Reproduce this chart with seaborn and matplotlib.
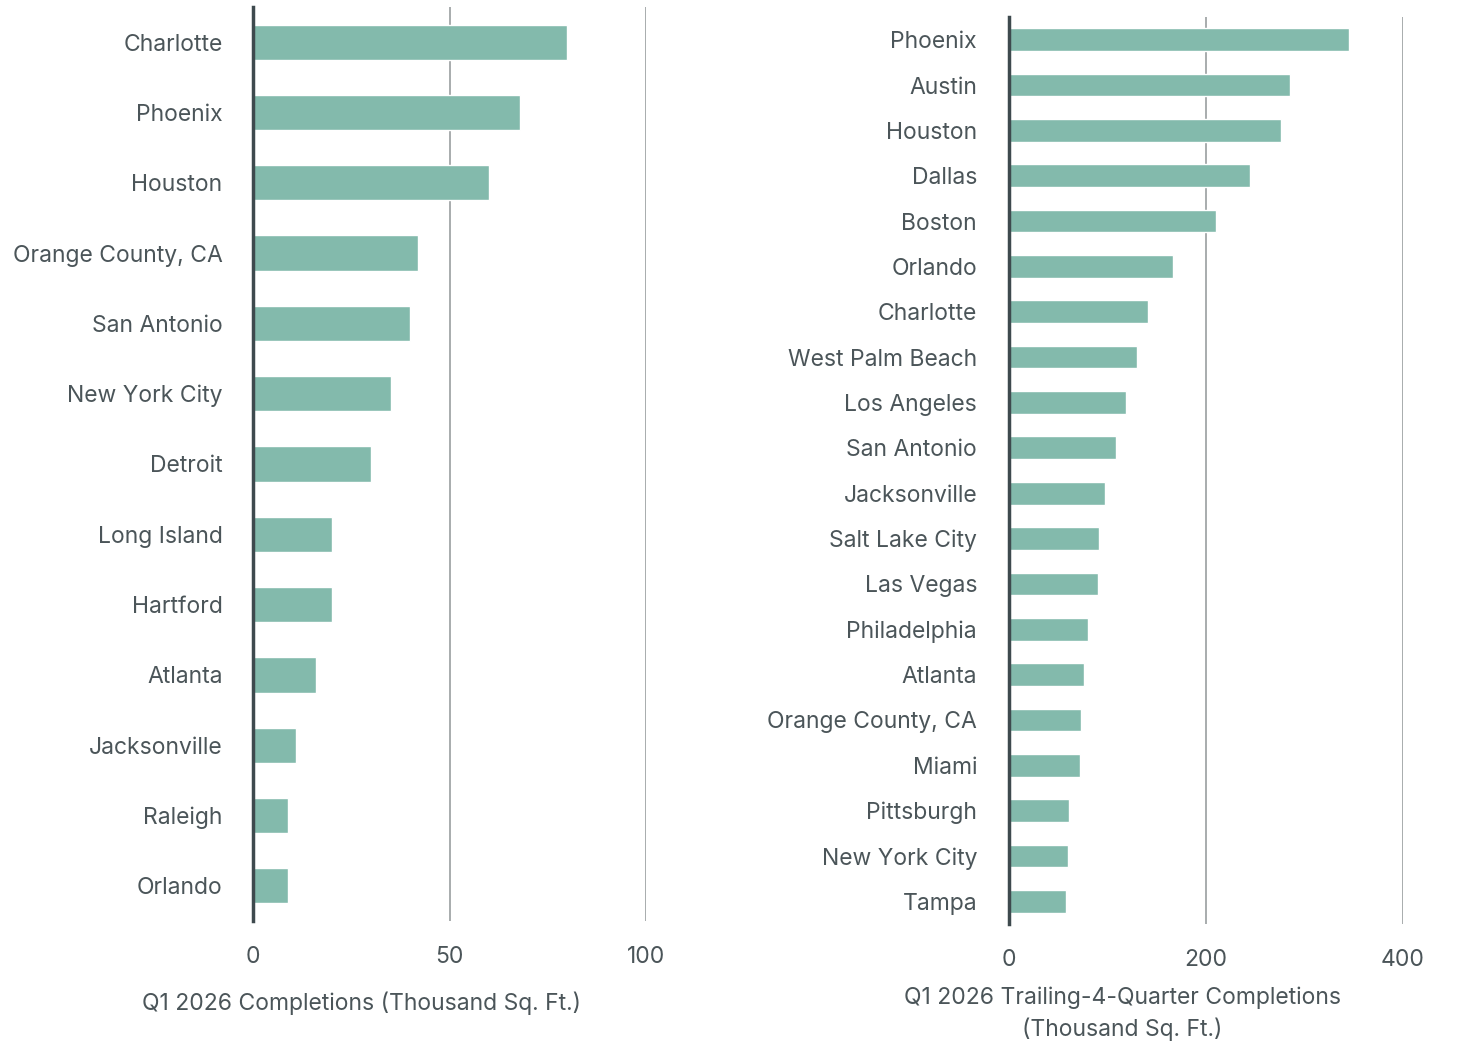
import matplotlib.pyplot as plt
import pandas as pd
import seaborn as sns

# left panel: Q1 2026 completions
q1_markets = [
    "Charlotte", "Phoenix", "Houston", "Orange County, CA", "San Antonio",
    "New York City", "Detroit", "Long Island", "Hartford", "Atlanta",
    "Jacksonville", "Raleigh", "Orlando",
]
q1_values = [80, 68, 60, 42, 40, 35, 30, 20, 20, 16, 11, 9, 9]

# right panel: trailing-4-quarter completions
t4q_markets = [
    "Phoenix", "Austin", "Houston", "Dallas", "Boston", "Orlando", "Charlotte",
    "West Palm Beach", "Los Angeles", "San Antonio", "Jacksonville",
    "Salt Lake City", "Las Vegas", "Philadelphia", "Atlanta",
    "Orange County, CA", "Miami", "Pittsburgh", "New York City", "Tampa",
]
t4q_values = [345, 285, 276, 245, 210, 167, 141, 130, 119, 109, 97, 91, 90,
              80, 76, 73, 72, 61, 60, 58]

left_ticks = [0, 50, 100]
right_ticks = [0, 200, 400]

df_q1 = pd.DataFrame({"market": q1_markets, "value": q1_values})
df_t4q = pd.DataFrame({"market": t4q_markets, "value": t4q_values})

sns.set_theme(style="white")
plt.rcParams["font.family"] = ["Inter", "DejaVu Sans"]

bar_color = "#83baac"
text_color = "#4b5559"
grid_color = "#9a9e9f"
spine_color = "#3e4a4e"

fig = plt.figure(figsize=(14.57, 10.42), dpi=100)
W, H = 1457, 1042
ax1 = fig.add_axes([253 / W, 1 - 921 / H, (646 - 253) / W, (921 - 7) / H])
ax2 = fig.add_axes([1009 / W, 1 - 924 / H, (1403 - 1009) / W, (924 - 17) / H])


def style_panel(ax, df, ticks, label, label_x, label_y, ypad):
    sns.barplot(data=df, x="value", y="market", color=bar_color, width=0.5,
                saturation=1, ax=ax, zorder=2)
    ax.set_xlim(ticks[0], ticks[-1])
    ax.set_ylim(len(df) - 0.5, -0.5)
    ax.set_xticks(ticks)
    for t in ticks[1:]:
        ax.axvline(t, color=grid_color, lw=1.2, zorder=1)
    for side in ["top", "right", "bottom"]:
        ax.spines[side].set_visible(False)
    ax.spines["left"].set_color(spine_color)
    ax.spines["left"].set_linewidth(2.5)
    ax.spines["left"].set_zorder(3)
    ax.tick_params(axis="both", length=0, labelsize=16.5, colors=text_color)
    ax.tick_params(axis="x", pad=18)
    ax.tick_params(axis="y", pad=ypad)
    ax.set_ylabel(None)
    ax.set_xlabel(label, fontsize=16.5, color=text_color, linespacing=1.45)
    ax.xaxis.set_label_coords(label_x, label_y, transform=ax.transAxes)
    ax.xaxis.label.set_va("top")


style_panel(ax1, df_q1, left_ticks,
            "Q1 2026 Completions (Thousand Sq. Ft.)",
            (361 - 253) / 393, -0.077, 22)
style_panel(ax2, df_t4q, right_ticks,
            "Q1 2026 Trailing-4-Quarter Completions\n(Thousand Sq. Ft.)",
            (1122 - 1009) / 394, -0.069, 23)

plt.savefig("out.png", dpi=100)
